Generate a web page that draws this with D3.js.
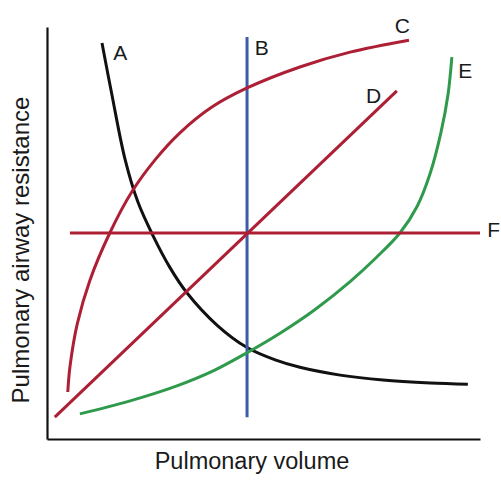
<!DOCTYPE html>
<html>
<head>
<meta charset="utf-8">
<script src="https://cdn.jsdelivr.net/npm/d3@7"></script>
<style>
  html, body { margin: 0; padding: 0; background: #fff; }
  svg { display: block; }
  text { font-family: "Liberation Sans", Arial, sans-serif; fill: #1a1a1a; }
</style>
</head>
<body>
<svg id="chart" width="501" height="481"></svg>
<script>
// Resistance vs. volume curves, in arbitrary units (volume 0–100, resistance 0–100)
const curveA = [[12.7,96.1],[15,83.5],[18,68],[21,57.5],[24.5,49.3],[28.4,41.6],[32.3,35.5],[39.3,27.6],[46.2,22.2],[52.7,19.2],[58.4,17.4],[67.7,15.5],[77.6,14.3],[88.5,13.6],[97.2,13.3]];
const curveB = [[46.2,5.3],[46.2,97.6]];
const curveC = [[4.8,11.4],[5.3,17.5],[7,28],[9.9,38.5],[14.5,50],[19.6,60],[25,67.8],[30.7,74.3],[38,80.5],[46.2,85.2],[58.4,90.3],[70,93.9],[83.6,96.8]];
const curveD = [[1.8,5.3],[80.8,84.5]];
const curveE = [[7.6,6.1],[19,9.2],[30,12.9],[38.5,16.6],[46.3,21.0],[54,25.8],[62,31.5],[70,38.2],[76,44.0],[81.5,50.0],[85.5,56.5],[88.5,64.5],[91,74.5],[92.6,83.5],[93.5,92.7]];
const curveF = [[5.3,50.0],[100,50.0]];

const curveNames = ["A","B","C","D","E","F"];
const curveColors = ["#111111","#3d5ca8","#ad1f35","#ad1f35","#2f9a4c","#ad1f35"];
const curveData = [curveA, curveB, curveC, curveD, curveE, curveF];
// where each letter sits, in data units
const labelPos = [[15.3,92.0],[48.0,93.2],[80.3,98.5],[73.7,81.6],[95.0,87.6],[101.7,49.0]];

const xTitle = "Pulmonary volume";
const yTitle = "Pulmonary airway resistance";

const svg = d3.select("#chart");
const x = d3.scaleLinear().domain([0, 100]).range([47, 480]);
const y = d3.scaleLinear().domain([0, 100]).range([439, 27]);

// axes: plain lines, no ticks
svg.append("g")
  .attr("transform", `translate(0,${y(0)})`)
  .call(d3.axisBottom(x).tickValues([]).tickSizeOuter(0))
  .call(g => g.select(".domain").attr("stroke", "#111").attr("stroke-width", 2.2));
svg.append("g")
  .attr("transform", `translate(${x(0)},0)`)
  .call(d3.axisLeft(y).tickValues([]).tickSizeOuter(0))
  .call(g => g.select(".domain").attr("stroke", "#111").attr("stroke-width", 2.2));

const line = d3.line().x(d => x(d[0])).y(d => y(d[1])).curve(d3.curveCatmullRom.alpha(0.5));

svg.append("g").selectAll("path")
  .data(curveData)
  .join("path")
  .attr("d", d => line(d))
  .attr("fill", "none")
  .attr("stroke", (d, i) => curveColors[i])
  .attr("stroke-width", 3)
  .attr("stroke-linecap", "butt");

svg.append("g").selectAll("text")
  .data(curveNames)
  .join("text")
  .attr("x", (d, i) => x(labelPos[i][0]))
  .attr("y", (d, i) => y(labelPos[i][1]))
  .attr("font-size", 21)
  .text(d => d);

svg.append("text")
  .attr("x", 252)
  .attr("y", 469)
  .attr("text-anchor", "middle")
  .attr("font-size", 23.5)
  .text(xTitle);

svg.append("text")
  .attr("transform", `translate(29,${250}) rotate(-90)`)
  .attr("text-anchor", "middle")
  .attr("font-size", 24)
  .text(yTitle);
</script>
</body>
</html>
